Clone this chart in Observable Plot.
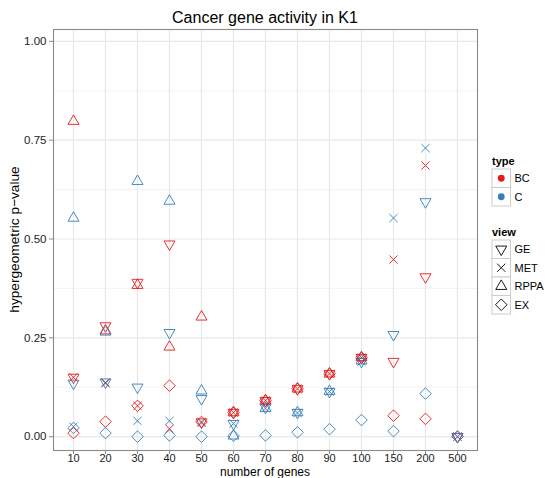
<!DOCTYPE html>
<html><head><meta charset="utf-8">
<script src="https://cdn.jsdelivr.net/npm/d3@7"></script>
<script src="https://cdn.jsdelivr.net/npm/@observablehq/plot@0.6"></script>
<style>body{margin:0;background:#fff} #chart{width:546px;height:478px}</style>
</head><body><div id="chart"></div>
<script>
// ---- data ----
const genes = ["10","20","30","40","50","60","70","80","90","100","150","200","500"];
const types = ["BC", "C"];
const typeColors = ["#E41A1C", "#377EB8"];
const views = ["GE", "MET", "RPPA", "EX"];
const yTicks = [0, 0.25, 0.5, 0.75, 1];
const yMinor = [0.125, 0.375, 0.625, 0.875];

const BC_GE   = [0.150, 0.280, 0.390, 0.487, 0.037, 0.061, 0.091, 0.121, 0.159, 0.200, 0.190, 0.404, 0];
const BC_MET  = [0.150, 0.137, 0.078, 0.020, 0.037, 0.061, 0.091, 0.121, 0.159, 0.200, 0.448, 0.686, 0];
const BC_RPPA = [0.798, 0.268, 0.383, 0.227, 0.303, 0.061, 0.091, 0.121, 0.159, 0.200, null, null, null];
const BC_EX   = [0.009, 0.038, 0.078, 0.129, 0.037, 0.061, 0.091, 0.121, 0.159, 0.200, 0.053, 0.045, 0];
const C_GE    = [0.135, 0.138, 0.125, 0.263, 0.096, 0.033, 0.074, 0.061, 0.114, 0.190, 0.258, 0.594, 0];
const C_MET   = [0.025, 0.135, 0.040, 0.040, 0.035, 0.033, 0.072, 0.060, 0.114, 0.190, 0.553, 0.730, 0];
const C_RPPA  = [0.553, 0.265, 0.646, 0.596, 0.116, 0.002, 0.072, 0.061, 0.115, 0.192, null, null, null];
const C_EX    = [0.022, 0.009, 0.000, 0.003, 0.000, 0.002, 0.003, 0.011, 0.019, 0.042, 0.014, 0.109, 0];

const series = {
  BC: {GE: BC_GE, MET: BC_MET, RPPA: BC_RPPA, EX: BC_EX},
  C:  {GE: C_GE,  MET: C_MET,  RPPA: C_RPPA,  EX: C_EX}
};
const data = [];
for (const v of views) for (const t of types) series[t][v].forEach((val, i) => {
  if (val != null) data.push({genes: genes[i], type: t, view: v, p: val});
});

// ---- ggplot-like open symbols ----
const rad = s => Math.sqrt(s / Math.PI);
function tri(dir) {
  return {draw(ctx, size) {
    const R = rad(size), r = 1.555 * R, xc = r * Math.sqrt(3) / 2;
    ctx.moveTo(0, dir * r); ctx.lineTo(xc, -dir * r / 2); ctx.lineTo(-xc, -dir * r / 2); ctx.closePath();
  }};
}
const symbols = {
  GE: tri(1),
  RPPA: tri(-1),
  MET: {draw(ctx, size) { const R = rad(size);
    ctx.moveTo(-R, -R); ctx.lineTo(R, R); ctx.moveTo(R, -R); ctx.lineTo(-R, R); }},
  EX: {draw(ctx, size) { const d = Math.SQRT2 * rad(size);
    ctx.moveTo(0, -d); ctx.lineTo(d, 0); ctx.lineTo(0, d); ctx.lineTo(-d, 0); ctx.closePath(); }}
};

const font = "'Liberation Sans', Arial, Helvetica, sans-serif";
const W = 546, H = 478;
const mL = 53, mR = 69, mT = 29, mB = 28;

const plot = Plot.plot({
  width: W, height: H,
  marginLeft: mL, marginRight: mR, marginTop: mT, marginBottom: mB,
  style: {fontFamily: font, background: "#fff", color: "#222"},
  x: {type: "point", domain: genes, padding: 0.6, label: null},
  y: {domain: [-0.035, 1.03], label: null},
  color: {domain: types, range: typeColors},
  marks: [
    Plot.gridY(yMinor, {stroke: "#f4f4f4", strokeOpacity: 1, strokeWidth: 1.2}),
    Plot.gridY(yTicks, {stroke: "#e8e8e8", strokeOpacity: 1, strokeWidth: 1.2}),
    Plot.gridX({stroke: "#e8e8e8", strokeOpacity: 1, strokeWidth: 1.2}),
    ...views.map(v => Plot.dot(data.filter(d => d.view === v), {
      x: "genes", y: "p", stroke: "type", fill: "none",
      symbol: symbols[v], r: 4.08, strokeWidth: 0.9
    })),
    Plot.frame({stroke: "#8a8a8a", strokeWidth: 1.1}),
    Plot.axisY(yTicks, {tickFormat: d3.format(".2f"), tickSize: 4, tickPadding: 3,
      stroke: "#8a8a8a", fill: "#222", fontSize: 11.5, label: null}),
    Plot.axisX({tickSize: 4, tickPadding: 0, stroke: "#8a8a8a", fill: "#222",
      fontSize: 11, label: null})
  ]
});
document.getElementById("chart").appendChild(plot);

const svg = d3.select(plot);
const cx = (mL + (W - mR)) / 2;
svg.append("text").attr("x", cx).attr("y", 23).attr("text-anchor", "middle")
  .attr("font-size", 16).attr("font-family", font).attr("fill", "#000")
  .text("Cancer gene activity in K1");
svg.append("text").attr("x", cx).attr("y", 475.5).attr("text-anchor", "middle")
  .attr("font-size", 12).attr("font-family", font).attr("fill", "#000")
  .text("number of genes");
svg.append("text").attr("transform", `translate(19,${(mT + H - mB) / 2}) rotate(-90)`)
  .attr("text-anchor", "middle").attr("font-size", 13.7).attr("font-family", font).attr("fill", "#000")
  .text("hypergeometric p\u2212value");

// ---- legends ----
const lx = 492, key = 18.5;
const lg = svg.append("g").attr("font-family", font).attr("text-anchor", "start");
function legendBlock(title, items, top, drawKey) {
  lg.append("text").attr("x", lx).attr("y", top).attr("dy", "0.35em").attr("text-anchor", "start")
    .attr("font-size", 11).attr("font-weight", "bold").attr("fill", "#000").text(title);
  items.forEach((it, i) => {
    const y0 = top + 8 + i * key;
    lg.append("rect").attr("x", lx).attr("y", y0).attr("width", key).attr("height", key)
      .attr("fill", "#fff").attr("stroke", "#cccccc").attr("stroke-width", 1);
    drawKey(it, i, lx + key / 2, y0 + key / 2);
    lg.append("text").attr("x", lx + key + 4).attr("y", y0 + key / 2).attr("dy", "0.35em")
      .attr("text-anchor", "start")
      .attr("font-size", 11).attr("fill", "#000").text(it);
  });
}
legendBlock("type", types, 161, (t, i, x, y) => {
  lg.append("circle").attr("cx", x).attr("cy", y).attr("r", 3.4).attr("fill", typeColors[i]);
});
legendBlock("view", views, 232, (v, i, x, y) => {
  const p = d3.path();
  symbols[v].draw(p, Math.PI * 4.08 * 4.08);
  lg.append("path").attr("transform", `translate(${x},${y})`).attr("d", p.toString())
    .attr("fill", "none").attr("stroke", "#000").attr("stroke-width", 0.9);
});
</script>
</body></html>
